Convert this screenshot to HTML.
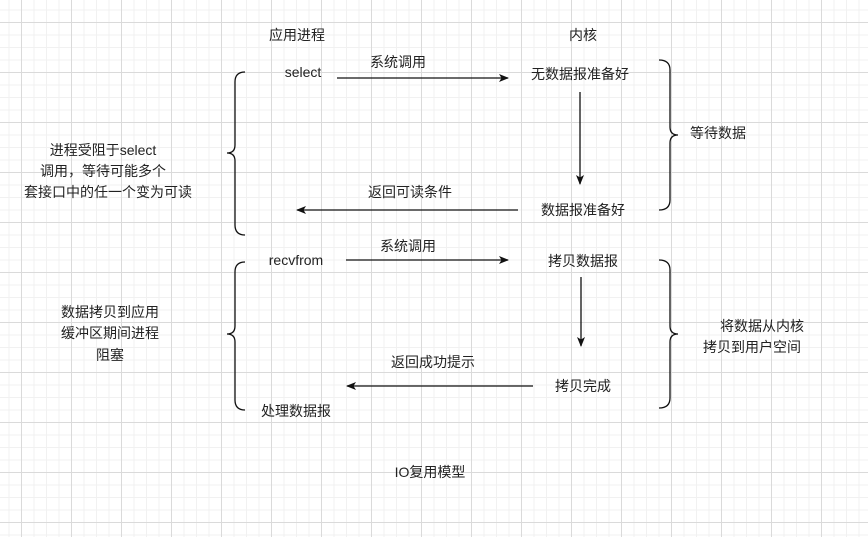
<!DOCTYPE html>
<html><head><meta charset="utf-8"><style>
html,body{margin:0;padding:0}
body{width:868px;height:537px;overflow:hidden;background-color:#fff;
background-image:linear-gradient(#dadada 1px,transparent 1px),linear-gradient(90deg,#dadada 1px,transparent 1px),linear-gradient(#f1f1f1 1px,transparent 1px),linear-gradient(90deg,#f1f1f1 1px,transparent 1px);
background-size:50px 50px,50px 50px,12.5px 12.5px,12.5px 12.5px;
background-position:21px 22px,21px 22px,8.5px 9.5px,8.5px 9.5px;}
svg{position:absolute;left:0;top:0}
text{font-family:"Liberation Sans","Noto Sans CJK SC",sans-serif;font-size:14px;fill:#222;text-anchor:middle}
</style></head><body>
<svg width="868" height="537" viewBox="0 0 868 537">
<defs><marker id="a" markerWidth="10" markerHeight="10" refX="9" refY="5" orient="auto" markerUnits="userSpaceOnUse"><path d="M0,1 L10,5 L0,9 L2.5,5 Z" fill="#111"/></marker></defs>
<g stroke="#111" stroke-width="1.3" fill="none">
<line x1="337" y1="78" x2="508" y2="78" marker-end="url(#a)"/>
<line x1="580" y1="92" x2="580" y2="184" marker-end="url(#a)"/>
<line x1="518" y1="210" x2="297" y2="210" marker-end="url(#a)"/>
<line x1="346" y1="260" x2="508" y2="260" marker-end="url(#a)"/>
<line x1="581" y1="277" x2="581" y2="346" marker-end="url(#a)"/>
<line x1="533" y1="386" x2="347" y2="386" marker-end="url(#a)"/>
<path d="M245,72 Q235,72 235,82 L235,145 Q235,153 227,153 Q235,153 235,161 L235,225 Q235,235 245,235"/>
<path d="M659,60 Q670,60 670,70 L670,127 Q670,135 678,135 Q670,135 670,143 L670,200 Q670,210 659,210"/>
<path d="M245,262 Q235,262 235,272 L235,326 Q235,334 227,334 Q235,334 235,342 L235,400 Q235,410 245,410"/>
<path d="M659,260 Q670,260 670,270 L670,326 Q670,334 678,334 Q670,334 670,342 L670,398 Q670,408 659,408"/>
</g>
<text x="297" y="40">应用进程</text>
<text x="583" y="40">内核</text>
<text x="303" y="77">select</text>
<text x="398" y="67">系统调用</text>
<text x="580" y="79">无数据报准备好</text>
<text x="718" y="138">等待数据</text>
<text x="583" y="215">数据报准备好</text>
<text x="410" y="197">返回可读条件</text>
<text x="103" y="155">进程受阻于select</text>
<text x="103" y="176">调用，等待可能多个</text>
<text x="108" y="197">套接口中的任一个变为可读</text>
<text x="296" y="265">recvfrom</text>
<text x="408" y="251">系统调用</text>
<text x="583" y="266">拷贝数据报</text>
<text x="762" y="331">将数据从内核</text>
<text x="752" y="352">拷贝到用户空间</text>
<text x="433" y="367">返回成功提示</text>
<text x="583" y="391">拷贝完成</text>
<text x="296" y="416">处理数据报</text>
<text x="110" y="317">数据拷贝到应用</text>
<text x="110" y="338">缓冲区期间进程</text>
<text x="110" y="360">阻塞</text>
<text x="430" y="477">IO复用模型</text>
</svg>
</body></html>
